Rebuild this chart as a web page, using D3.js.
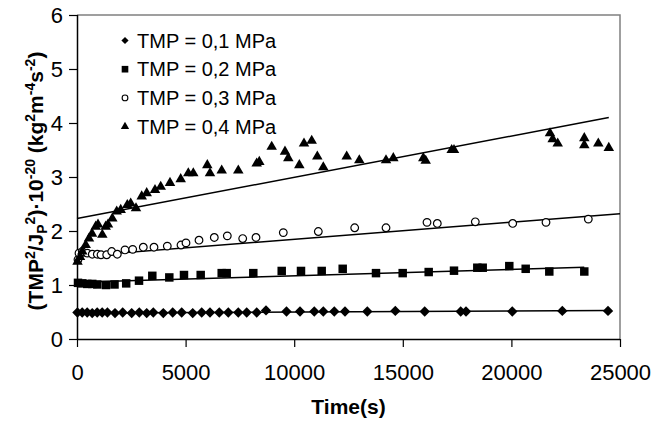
<!DOCTYPE html>
<html>
<head>
<meta charset="utf-8">
<script src="https://cdn.jsdelivr.net/npm/d3@7"></script>
<style>
  body { margin: 0; background: #fff; }
  svg text { font-family: "Liberation Sans", Arial, sans-serif; fill: #000; }
</style>
</head>
<body>
<div id="chart"></div>
<script>
(function(){
  // series: [time (s), value]
  const tmp01 = [[20,0.49],[240,0.49],[470,0.49],[700,0.48],[930,0.49],[1160,0.49],[1400,0.49],[1750,0.48],[2104,0.49],[2518,0.48],[2868,0.49],[3209,0.48],[3513,0.49],[3973,0.48],[4406,0.49],[4820,0.49],[5327,0.48],[5741,0.49],[6123,0.49],[6551,0.49],[6966,0.49],[7426,0.49],[7813,0.49],[8273,0.49],[8702,0.53],[9645,0.51],[10267,0.51],[10925,0.51],[11340,0.51],[11846,0.51],[12339,0.51],[13366,0.51],[14655,0.52],[16008,0.51],[17666,0.51],[17910,0.51],[20041,0.51],[22344,0.52],[24448,0.52]];
  const tmp02 = [[46,1.04],[244,1.03],[474,1.02],[704,1.02],[935,1.01],[1335,1.00],[1727,1.01],[2265,1.03],[2855,1.08],[3467,1.17],[4250,1.14],[4926,1.185],[5695,1.185],[6662,1.22],[6892,1.22],[8117,1.22],[9425,1.26],[10313,1.26],[11266,1.26],[12233,1.30],[13766,1.22],[14995,1.22],[16192,1.24],[17357,1.265],[18430,1.32],[18679,1.32],[19903,1.35],[20658,1.30],[21745,1.25],[23356,1.25]];
  const tmp03 = [[46,1.47],[92,1.59],[244,1.62],[474,1.59],[704,1.57],[935,1.57],[1105,1.56],[1367,1.56],[1598,1.62],[1855,1.57],[2210,1.65],[2564,1.66],[3052,1.70],[3545,1.70],[4157,1.72],[4788,1.74],[5018,1.78],[5617,1.83],[6321,1.88],[6920,1.91],[7629,1.86],[8241,1.88],[9498,1.97],[11110,1.99],[12785,2.06],[14227,2.06],[16114,2.16],[16588,2.14],[18338,2.17],[20060,2.14],[21593,2.16],[23541,2.22]];
  const tmp04 = [[23,1.43],[138,1.52],[244,1.62],[400,1.74],[552,1.86],[691,1.95],[861,2.08],[967,2.12],[1165,1.93],[1321,2.08],[1427,2.12],[1625,2.23],[1828,2.36],[2012,2.39],[2316,2.48],[2472,2.51],[2716,2.42],[2979,2.64],[3209,2.70],[3591,2.76],[3854,2.82],[4282,2.89],[4774,2.96],[5124,3.07],[5354,3.07],[5999,3.22],[6123,3.07],[6662,3.12],[7426,3.12],[8273,3.25],[8393,3.28],[8964,3.56],[9576,3.47],[9728,3.35],[10235,3.22],[10451,3.62],[10806,3.67],[11064,3.38],[11340,3.18],[12417,3.38],[12997,3.31],[14227,3.31],[14563,3.35],[15944,3.35],[16054,3.30],[17251,3.50],[17357,3.50],[21777,3.81],[21901,3.70],[22132,3.62],[23356,3.72],[23356,3.59],[24001,3.62],[24484,3.54]];

  // linear trend lines: [t0, v0, t1, v1]
  const trend01 = [0, 0.48, 24448, 0.53];
  const trend02 = [0, 1.05, 23356, 1.33];
  const trend03 = [0, 1.53, 25000, 2.32];
  const trend04 = [0, 2.23, 24484, 4.10];

  const seriesNames = ['TMP = 0,1 MPa', 'TMP = 0,2 MPa', 'TMP = 0,3 MPa', 'TMP = 0,4 MPa'];
  const xTicks = [0, 5000, 10000, 15000, 20000, 25000];
  const yTicks = [0, 1, 2, 3, 4, 5, 6];

  const width = 661, height = 421;
  const left = 77, right = 620, top = 15, bottom = 339;

  const x = d3.scaleLinear().domain([0, 25000]).range([left, right]);
  const y = d3.scaleLinear().domain([0, 6]).range([bottom, top]);

  const svg = d3.select('#chart').append('svg')
    .attr('width', width)
    .attr('height', height);

  //top and right frame in gray
  svg.append('path')
    .attr('d', `M${left},${top}H${right}V${bottom}`)
    .attr('fill', 'none')
    .attr('stroke', '#808080')
    .attr('stroke-width', 1.5);

  //axes
  const xAxis = svg.append('g')
    .attr('transform', `translate(0,${bottom})`)
    .call(d3.axisBottom(x).tickValues(xTicks).tickSize(8).tickPadding(8).tickFormat(d3.format('d')));
  const yAxis = svg.append('g')
    .attr('transform', `translate(${left},0)`)
    .call(d3.axisLeft(y).tickValues(yTicks).tickSize(8).tickPadding(6).tickFormat(d3.format('d')));

  [xAxis, yAxis].forEach(function(a){
    a.select('.domain').attr('stroke', '#000').attr('stroke-width', 1.5);
    a.selectAll('.tick line').attr('stroke', '#000').attr('stroke-width', 1.2);
    a.selectAll('.tick text').style('font-size', '22px')
      .style('font-family', '"Liberation Sans", Arial, sans-serif');
  });
  xAxis.select('.domain').attr('d', `M${left},0.5H${right}`);
  yAxis.select('.domain').attr('d', `M0.5,${top}V${bottom}`);
  xAxis.selectAll('.tick text').attr('dy', '1.12em');

  //trend lines
  const trends = [trend01, trend02, trend03, trend04];
  svg.selectAll('.trend')
    .data(trends)
    .enter()
    .append('line')
    .attr('class', 'trend')
    .attr('x1', d => x(d[0]))
    .attr('y1', d => y(d[1]))
    .attr('x2', d => x(d[2]))
    .attr('y2', d => y(d[3]))
    .attr('stroke', '#000')
    .attr('stroke-width', 1.5);

  //marker shapes
  const diamond = d3.symbol().type(d3.symbolSquare).size(54);
  const square = d3.symbol().type(d3.symbolSquare).size(72);
  const circle = d3.symbol().type(d3.symbolCircle).size(46);
  const triangle = d3.symbol().type(d3.symbolTriangle).size(48);

  const styles = [
    {data: tmp01, sym: diamond, rot: 45, fill: '#000', stroke: 'none'},
    {data: tmp02, sym: square, rot: 0, fill: '#000', stroke: 'none'},
    {data: tmp03, sym: circle, rot: 0, fill: '#fff', stroke: '#000'},
    {data: tmp04, sym: triangle, rot: 0, fill: '#000', stroke: 'none'}
  ];

  styles.forEach(function(s, i){
    svg.append('g')
      .attr('class', 'series s' + i)
      .selectAll('path')
      .data(s.data)
      .enter()
      .append('path')
      .attr('d', s.sym())
      .attr('transform', d => `translate(${x(d[0])},${y(d[1])}) rotate(${s.rot})`)
      .attr('fill', s.fill)
      .attr('stroke', s.stroke)
      .attr('stroke-width', 1.2);
  });

  //legend
  const legendSyms = [
    d3.symbol().type(d3.symbolSquare).size(26),
    d3.symbol().type(d3.symbolSquare).size(44),
    d3.symbol().type(d3.symbolCircle).size(26),
    d3.symbol().type(d3.symbolTriangle).size(30)
  ];
  const legend = svg.append('g').attr('class', 'legend');
  const rows = legend.selectAll('g')
    .data(seriesNames)
    .enter()
    .append('g')
    .attr('transform', (d, i) => `translate(125,${40.5 + i * 28.7})`);
  rows.append('path')
    .attr('d', (d, i) => legendSyms[i]())
    .attr('transform', (d, i) => i == 0 ? 'rotate(45)' : null)
    .attr('fill', (d, i) => styles[i].fill)
    .attr('stroke', (d, i) => styles[i].stroke)
    .attr('stroke-width', 1.1);
  rows.append('text')
    .attr('x', 12)
    .attr('dy', '0.35em')
    .style('font-size', '20px')
    .text(d => d);

  //axis titles
  svg.append('text')
    .attr('x', (left + right) / 2)
    .attr('y', 414)
    .attr('text-anchor', 'middle')
    .style('font-size', '21px')
    .style('font-weight', 'bold')
    .text('Time(s)');

  const yTitle = svg.append('text')
    .attr('transform', `translate(43,${(top + bottom) / 2 + 4}) rotate(-90)`)
    .attr('text-anchor', 'middle')
    .style('font-size', '21px')
    .style('font-weight', 'bold');
  const parts = [
    ['(TMP', 0], ['2', 1], ['/J', 0], ['P', -1], ['2', 1], [')·10', 0], ['-20', 1],
    [' (kg', 0], ['2', 1], ['m', 0], ['-4', 1], ['s', 0], ['-2', 1], [')', 0]
  ];
  let shift = 0;
  parts.forEach(function(p){
    const target = p[1] == 1 ? -8 : (p[1] == -1 ? 4 : 0);
    yTitle.append('tspan')
      .attr('dy', target - shift)
      .style('font-size', p[1] == 0 ? '21px' : '14px')
      .text(p[0]);
    shift = target;
  });
})();
</script>
</body>
</html>
